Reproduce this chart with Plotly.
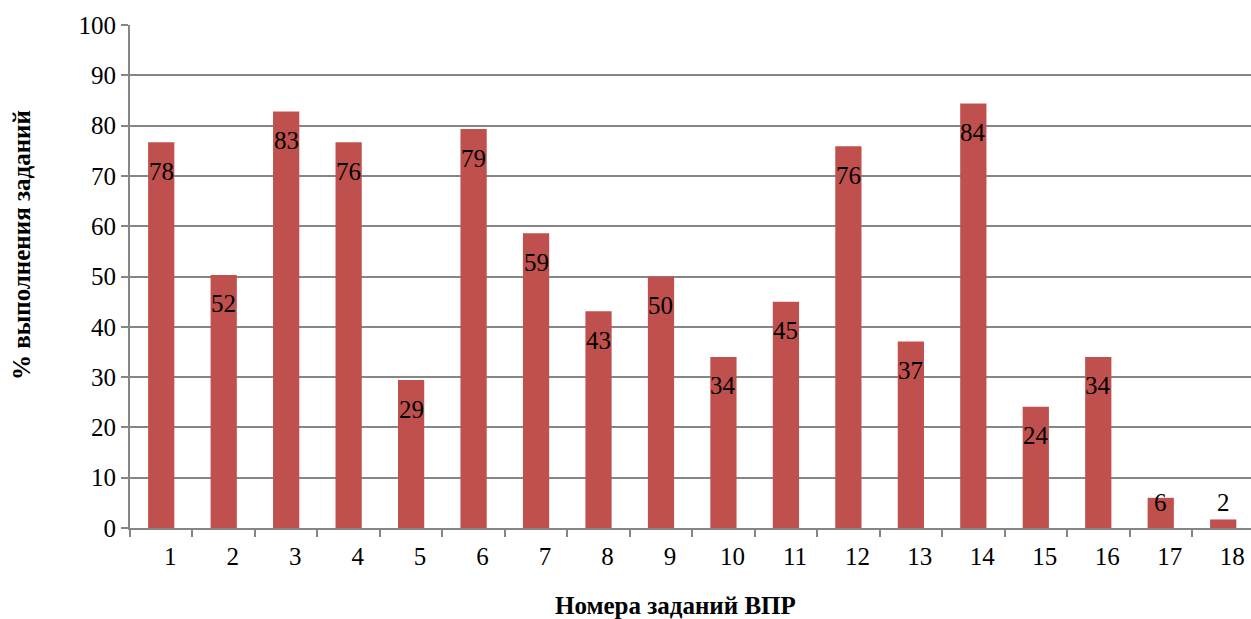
import plotly.graph_objects as go

tasks = [str(i) for i in range(1, 19)]
bar_values = [76.7, 50.3, 82.8, 76.7, 29.4, 79.3, 58.6, 43.1, 50.0, 34.0, 45.0, 75.9, 37.1, 84.4, 24.1, 34.0, 6.0, 1.7]
label_values = [78, 52, 83, 76, 29, 79, 59, 43, 50, 34, 45, 76, 37, 84, 24, 34, 6, 2]
y_ticks = list(range(0, 101, 10))
x_title = "Номера заданий ВПР"
y_title = "% выполнения заданий"

FONT = "Liberation Serif, Times New Roman, serif"
AXIS_COLOR = "#868686"

fig = go.Figure()
fig.add_trace(go.Bar(
    x=tasks, y=bar_values,
    marker=dict(color="#C0504D", line=dict(width=0)),
    width=0.42,
    hoverinfo="skip",
))

for i, (h, lab) in enumerate(zip(bar_values, label_values)):
    if h >= 10:
        fig.add_annotation(x=i, y=h, text=str(lab), showarrow=False,
                           yanchor="middle", yshift=-29,
                           font=dict(family=FONT, size=25, color="black"))
    else:
        fig.add_annotation(x=i, y=5, text=str(lab), showarrow=False,
                           yanchor="middle",
                           font=dict(family=FONT, size=25, color="black"))

# plot area: x 130..1251, y 25..528 (height 503, width 1121)
fig.add_annotation(xref="paper", yref="paper", x=(675 - 130) / 1121, y=(528 - 605) / 503,
                   text="<b>" + x_title + "</b>", showarrow=False,
                   xanchor="center", yanchor="middle", borderpad=0,
                   font=dict(family=FONT, size=25, color="black"))
fig.add_annotation(xref="paper", yref="paper", x=(21 - 130) / 1121, y=(528 - 245) / 503,
                   text="<b>" + y_title + "</b>", showarrow=False, textangle=-90,
                   xanchor="center", yanchor="middle", borderpad=0,
                   font=dict(family=FONT, size=25, color="black"))

fig.update_layout(
    width=1251, height=619,
    margin=dict(l=130, r=0, t=25, b=91),
    paper_bgcolor="white", plot_bgcolor="white",
    showlegend=False,
    font=dict(family=FONT, size=25, color="black"),
)
fig.update_xaxes(
    type="category", automargin=False,
    range=[-0.5, 17.445],
    showline=True, linecolor=AXIS_COLOR, linewidth=2,
    ticks="outside", tickson="boundaries", ticklen=7, tickcolor=AXIS_COLOR, tickwidth=2,
    showgrid=False,
    tickfont=dict(family=FONT, size=25, color="black"),
    ticklabelshift=9,
    ticklabelstandoff=5,
)
fig.update_yaxes(
    range=[0, 100], tickvals=y_ticks, automargin=False,
    showline=True, linecolor=AXIS_COLOR, linewidth=2,
    ticks="outside", ticklen=7, tickcolor=AXIS_COLOR, tickwidth=2,
    showgrid=True, gridcolor=AXIS_COLOR, gridwidth=2,
    zeroline=False,
    tickfont=dict(family=FONT, size=25, color="black"),
)

fig.write_html("out.html",
               config={"displayModeBar": False},
               post_script="document.body.style.margin='0px';document.body.style.overflow='hidden';")
